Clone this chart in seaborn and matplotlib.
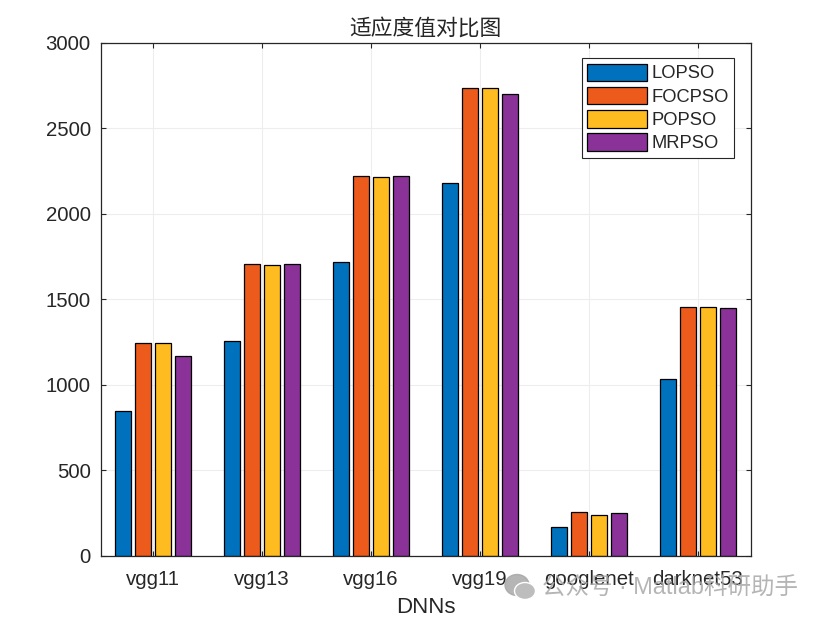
import pandas as pd
import seaborn as sns
import matplotlib.pyplot as plt
from matplotlib.patches import Ellipse

models = ['vgg11', 'vgg13', 'vgg16', 'vgg19', 'googlenet', 'darknet53']
lopso = [845, 1258, 1720, 2180, 165, 1035]
focpso = [1245, 1707, 2220, 2735, 255, 1455]
popso = [1245, 1702, 2215, 2735, 235, 1455]
mrpso = [1170, 1707, 2220, 2700, 250, 1450]
yticks = [0, 500, 1000, 1500, 2000, 2500, 3000]
palette = ['#0072BD', '#EC5A1C', '#FFBC21', '#8A3298']

df = pd.DataFrame({'DNNs': models, 'LOPSO': lopso, 'FOCPSO': focpso, 'POPSO': popso, 'MRPSO': mrpso})
df = df.melt(id_vars='DNNs', var_name='method', value_name='fitness')

sns.set_theme(style='white')
plt.rcParams['font.family'] = ['Liberation Sans', 'Noto Sans CJK SC', 'DejaVu Sans']
dark = '#262626'

fig = plt.figure(figsize=(8.23, 6.2), dpi=100)
ax = fig.add_axes([100.5 / 823, 1 - 555.5 / 620, 650.5 / 823, 512.5 / 620])

sns.barplot(data=df, x='DNNs', y='fitness', hue='method', palette=palette, saturation=1,
            width=0.733, gap=0.2, edgecolor='black', linewidth=0.9, ax=ax, legend=True)

ax.set_xlim(-0.48, 5.49)
ax.set_ylim(0, 3000)
ax.set_yticks(yticks)
ax.set_axisbelow(True)
ax.grid(True, color='#EDEDED', linewidth=0.8)
ax.tick_params(axis='both', direction='in', length=3.8, width=0.8, color=dark, labelcolor=dark,
               labelsize=14.7, top=True, right=True, left=True, bottom=True)
ax.tick_params(axis='x', pad=10.5)
ax.tick_params(axis='y', pad=7)
for s in ax.spines.values():
    s.set_visible(True)
    s.set_color(dark)
    s.set_linewidth(0.9)
ax.set_xlabel('DNNs', fontsize=16, color=dark, labelpad=6)
ax.set_ylabel('')
ax.set_title('适应度值对比图', fontsize=15.7, color=dark, pad=6)

leg = ax.legend(loc='upper left', bbox_to_anchor=(581.5 / 823, 1 - 58 / 620), bbox_transform=fig.transFigure,
                fontsize=13.2, frameon=True, fancybox=False, framealpha=1, edgecolor=dark,
                handlelength=3.25, handleheight=1.08, handletextpad=0.25, labelspacing=0.24,
                borderpad=0.3, borderaxespad=0, labelcolor=dark)
leg.get_frame().set_linewidth(0.8)

# watermark
wm = '#A8A8A8'
fig.add_artist(Ellipse((517 / 823, 1 - 585 / 620), 24 / 823, 21 / 620, color=wm, alpha=0.85))
fig.add_artist(Ellipse((525 / 823, 1 - 591 / 620), 21 / 823, 17 / 620, facecolor='#BDBDBD',
                       edgecolor='white', linewidth=1))
fig.text(542 / 823, 1 - 588 / 620, '公众号 · Matlab科研助手', fontsize=16.9, color=wm, alpha=0.85,
         va='center', ha='left')

plt.savefig('out.png', dpi=100)
